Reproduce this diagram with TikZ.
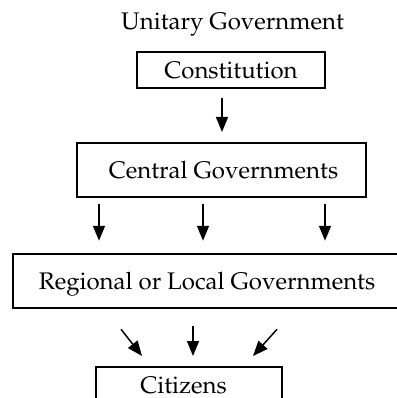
\documentclass[tikz,border=0pt]{standalone}
\usepackage[T1]{fontenc}
\usepackage{mathpazo}
\usetikzlibrary{arrows.meta}
\begin{document}
\begin{tikzpicture}[x=1pt,y=-1pt,
  txt/.style={font=\fontsize{24}{28}\selectfont},
  box/.style={txt,draw,line width=2pt,inner sep=0pt,text height=16.6pt,text depth=0pt},
  arr/.style={line width=1.5pt,-{Triangle[length=15pt,width=12pt]}}]
\useasboundingbox (0,0) rectangle (396,398);
\node[txt,anchor=base] (title) at (232.5,30) {Unitary Government};
\node[box,minimum width=188pt,minimum height=36pt] (const) at (231,70) {Constitution};
\node[box,minimum width=289pt,minimum height=54pt] (central) at (221.5,170) {\hspace*{4pt}Central Governments};
\node[box,line width=2.5pt,minimum width=400pt,minimum height=54pt] (regional) at (213,281) {\hspace*{-12pt}Regional or Local Governments};
\node[box,text height=20pt,minimum width=186pt,minimum height=32pt] (citizens) at (189,383) {Citizens\hspace*{11pt}};
\draw[arr] ([xshift=-9pt,yshift=-9pt]const.south) -- ([xshift=0.5pt,yshift=10pt]central.north);
\draw[arr] ([xshift=-122.5pt,yshift=-6pt]central.south) -- ([xshift=-114pt,yshift=12pt]regional.north);
\draw[arr] ([xshift=-18.5pt,yshift=-6pt]central.south) -- ([xshift=-10pt,yshift=12pt]regional.north);
\draw[arr] ([xshift=103.5pt,yshift=-6pt]central.south) -- ([xshift=112pt,yshift=12pt]regional.north);
\draw[arr] ([xshift=-92pt,yshift=-20pt]regional.south) -- ([xshift=-47pt,yshift=10pt]citizens.north);
\draw[arr] ([xshift=-20pt,yshift=-17pt]regional.south) -- ([xshift=4pt,yshift=10pt]citizens.north);
\draw[arr] ([xshift=64pt,yshift=-20pt]regional.south) -- ([xshift=64pt,yshift=10pt]citizens.north);
\end{tikzpicture}
\end{document}
